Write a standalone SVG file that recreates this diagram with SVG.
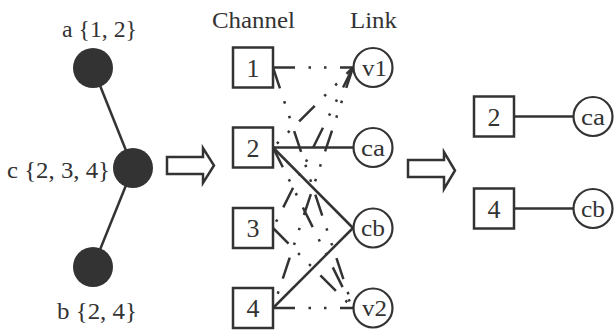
<svg xmlns="http://www.w3.org/2000/svg" width="614" height="331" viewBox="0 0 614 331">
<style>
text{font-family:"Liberation Serif","Times New Roman",serif;fill:#333;}
.lbl{font-size:23.5px;}
.num{font-size:26px;text-anchor:middle;}
.cir{font-size:23px;text-anchor:middle;}
.sq{fill:#fff;stroke:#333;stroke-width:2.5;}
.ln{fill:#fff;stroke:#333;stroke-width:2.2;}
.dot{fill:#333;}
.solid{stroke:#333;stroke-width:2.5;fill:none;}
.dd{stroke:#333;stroke-width:2.5;fill:none;stroke-dasharray:22 13.5 2.5 13 2.5 13.5;}
.arr{fill:#fff;stroke:#333;stroke-width:2.5;stroke-linejoin:miter;}
</style>

<g id="connectors">
  <line class="solid" x1="93" y1="68" x2="133" y2="168"/>
  <line class="solid" x1="133" y1="168" x2="93" y2="267"/>
  <line class="dd" x1="273" y1="67.5" x2="353" y2="67.5"/>
  <line class="dd" x1="273" y1="67.5" x2="353" y2="308"/>
  <line class="dd" x1="273" y1="147.5" x2="353" y2="67.5" stroke-dashoffset="30"/>
  <line class="dd" x1="273" y1="147.5" x2="353" y2="308"/>
  <line class="dd" x1="273" y1="228" x2="353" y2="67.5" stroke-dashoffset="44"/>
  <line class="dd" x1="273" y1="228" x2="353" y2="308"/>
  <line class="dd" x1="273" y1="308" x2="353" y2="67.5" stroke-dashoffset="36"/>
  <line class="dd" x1="273" y1="308" x2="353" y2="308"/>
  <line class="solid" x1="273" y1="147.5" x2="353" y2="147.5"/>
  <line class="solid" x1="273" y1="147.5" x2="353" y2="228"/>
  <line class="solid" x1="273" y1="308" x2="353" y2="228"/>
  <line class="solid" x1="514" y1="116.5" x2="574" y2="116.5"/>
  <line class="solid" x1="514" y1="208.5" x2="574" y2="208.5"/>
</g>

<g id="node-a">
  <circle class="dot" cx="93" cy="68" r="20"/>
  <text class="lbl" x="62" y="37" textLength="75" lengthAdjust="spacingAndGlyphs">a {1, 2}</text>
</g>
<g id="node-c">
  <circle class="dot" cx="133" cy="168" r="20"/>
  <text class="lbl" x="7" y="178" textLength="103" lengthAdjust="spacingAndGlyphs">c {2, 3, 4}</text>
</g>
<g id="node-b">
  <circle class="dot" cx="93" cy="267" r="20"/>
  <text class="lbl" x="57" y="319" textLength="80" lengthAdjust="spacingAndGlyphs">b {2, 4}</text>
</g>

<g id="arrow-1"><polygon class="arr" points="167,157 203,157 203,148 214,165.5 203,183 203,174 167,174"/></g>
<g id="arrow-2"><polygon class="arr" points="408,160 444,160 444,152 455,170.5 444,189 444,177 408,177"/></g>

<g id="header-channel"><text class="lbl" x="212" y="28" textLength="83" lengthAdjust="spacingAndGlyphs">Channel</text></g>
<g id="header-link"><text class="lbl" x="350" y="28" textLength="47" lengthAdjust="spacingAndGlyphs">Link</text></g>

<g id="ch-1"><rect class="sq" x="233" y="47.5" width="40" height="40"/><text class="num" x="253" y="76.5">1</text></g>
<g id="ch-2"><rect class="sq" x="233" y="127.5" width="40" height="40"/><text class="num" x="253" y="156.5">2</text></g>
<g id="ch-3"><rect class="sq" x="233" y="208" width="40" height="40"/><text class="num" x="253" y="237">3</text></g>
<g id="ch-4"><rect class="sq" x="233" y="288" width="40" height="40"/><text class="num" x="253" y="317">4</text></g>

<g id="link-v1"><circle class="ln" cx="373" cy="67.5" r="19.5"/><text class="cir" x="362" y="75.5" textLength="25" lengthAdjust="spacingAndGlyphs" style="text-anchor:start">v1</text></g>
<g id="link-ca"><circle class="ln" cx="373" cy="147.5" r="19.5"/><text class="cir" x="361" y="155.5" textLength="24" lengthAdjust="spacingAndGlyphs" style="text-anchor:start">ca</text></g>
<g id="link-cb"><circle class="ln" cx="373" cy="228" r="19.5"/><text class="cir" x="361" y="236" textLength="24" lengthAdjust="spacingAndGlyphs" style="text-anchor:start">cb</text></g>
<g id="link-v2"><circle class="ln" cx="373" cy="308" r="19.5"/><text class="cir" x="362" y="316" textLength="25" lengthAdjust="spacingAndGlyphs" style="text-anchor:start">v2</text></g>

<g id="res-ch-2"><rect class="sq" x="474" y="96.5" width="40" height="40"/><text class="num" x="494" y="125.5">2</text></g>
<g id="res-ch-4"><rect class="sq" x="474" y="188.5" width="40" height="40"/><text class="num" x="494" y="217.5">4</text></g>
<g id="res-ca"><circle class="ln" cx="593" cy="116.5" r="19.5"/><text class="cir" x="581" y="124.5" textLength="24" lengthAdjust="spacingAndGlyphs" style="text-anchor:start">ca</text></g>
<g id="res-cb"><circle class="ln" cx="593" cy="208.5" r="19.5"/><text class="cir" x="581" y="216.5" textLength="24" lengthAdjust="spacingAndGlyphs" style="text-anchor:start">cb</text></g>
</svg>
